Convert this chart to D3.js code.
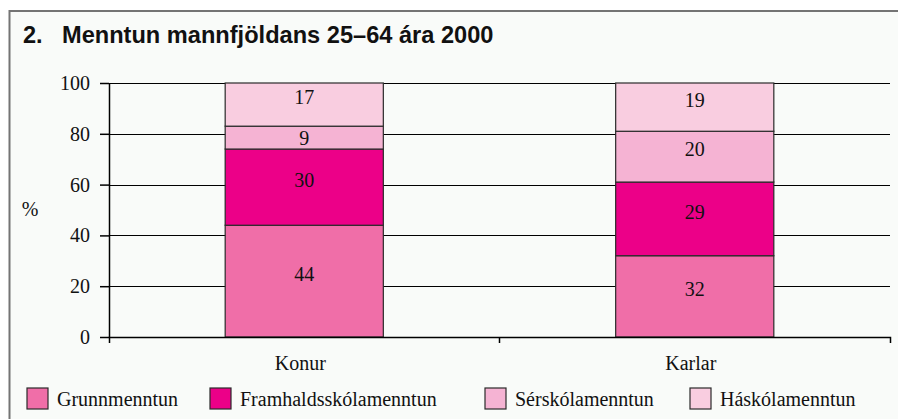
<!DOCTYPE html>
<html>
<head>
<meta charset="utf-8">
<script src="https://cdn.jsdelivr.net/npm/d3@7"></script>
<style>
  body { margin: 0; background: #ffffff; }
  text { font-family: "Liberation Serif", "Times New Roman", serif; fill: #111; }
  .title { font-family: "Liberation Sans", Arial, sans-serif; font-weight: bold; }
</style>
</head>
<body>
<div id="chart"></div>
<script>
// data
var categories = ["Konur", "Karlar"];
var seriesNames = ["Grunnmenntun", "Framhaldsskólamenntun", "Sérskólamenntun", "Háskólamenntun"];
var grunn = [44, 32];
var framhald = [30, 29];
var serskola = [9, 20];
var haskola = [17, 19];
var yTicks = [0, 20, 40, 60, 80, 100];

var colors = ["#f06ea8", "#ec0088", "#f5b3d3", "#f9cde0"];

var width = 898, height = 419;

var svg = d3.select("#chart").append("svg")
    .attr("width", width)
    .attr("height", height);

// frame
svg.append("rect")
    .attr("x", 9).attr("y", 10)
    .attr("width", width - 9).attr("height", height - 10)
    .attr("fill", "#f9fbf9");
svg.append("line")
    .attr("x1", 9).attr("x2", width).attr("y1", 11).attr("y2", 11)
    .attr("stroke", "#747474").attr("stroke-width", 2);
svg.append("line")
    .attr("x1", 9.5).attr("x2", 9.5).attr("y1", 10).attr("y2", height)
    .attr("stroke", "#747474").attr("stroke-width", 2);

// title
var title = svg.append("text").attr("class", "title")
    .attr("x", 23).attr("y", 43)
    .style("font-size", "23.6px");
title.append("tspan").text("2.");
title.append("tspan").attr("x", 62).text("Menntun mannfjöldans 25–64 ára 2000");

// scales
var plotLeft = 109, plotRight = 890, plotTop = 83, plotBottom = 337;

var x = d3.scaleBand()
    .domain(categories)
    .range([plotLeft, plotRight]);

var y = d3.scaleLinear()
    .domain([0, 100])
    .range([plotBottom, plotTop]);

var barFrac = 0.405;
var barW = x.bandwidth() * barFrac;

// gridlines
svg.append("g").selectAll("line")
    .data(yTicks.filter(function(d){ return d > 0; }))
    .enter().append("line")
    .attr("x1", plotLeft).attr("x2", plotRight)
    .attr("y1", function(d){ return Math.round(y(d)) + 0.5; })
    .attr("y2", function(d){ return Math.round(y(d)) + 0.5; })
    .attr("stroke", "#000").attr("stroke-width", 1.2);

// stack
var rows = categories.map(function(c, i){
    return {cat: c, "Grunnmenntun": grunn[i], "Framhaldsskólamenntun": framhald[i],
            "Sérskólamenntun": serskola[i], "Háskólamenntun": haskola[i]};
});
var stacked = d3.stack().keys(seriesNames)(rows);

var groups = svg.append("g").selectAll("g")
    .data(stacked)
    .enter().append("g")
    .attr("fill", function(d, i){ return colors[i]; });

groups.selectAll("rect")
    .data(function(d){ return d; })
    .enter().append("rect")
    .attr("x", function(d){ return x(d.data.cat) + (x.bandwidth() - barW) / 2; })
    .attr("y", function(d){ return y(d[1]); })
    .attr("width", barW)
    .attr("height", function(d){ return y(d[0]) - y(d[1]); })
    .attr("stroke", "#2a2a2a").attr("stroke-width", 1.2);

// value labels
groups.selectAll("text")
    .data(function(d){ return d; })
    .enter().append("text")
    .attr("x", function(d){ return x(d.data.cat) + x.bandwidth() / 2; })
    .attr("y", function(d){
        var mid = (y(d[0]) + y(d[1])) / 2;
        return Math.max(mid - 7, y(d[1]) + 12);
    })
    .attr("dy", "0.34em")
    .attr("text-anchor", "middle")
    .attr("fill", "#111")
    .style("font-size", "20px")
    .text(function(d){ return d[1] - d[0]; });

// y axis
var yAxis = d3.axisLeft(y)
    .tickValues(yTicks)
    .tickSizeInner(9)
    .tickSizeOuter(0)
    .tickPadding(10);

var gy = svg.append("g")
    .attr("transform", "translate(" + plotLeft + ",0)")
    .call(yAxis);
gy.selectAll("text").style("font-size", "20px").attr("fill", "#111")
    .style("font-family", "Liberation Serif, serif");
gy.selectAll("line, path").attr("stroke", "#000").attr("stroke-width", 1.5);

// x axis
var xAxis = d3.axisBottom(x)
    .tickSizeInner(0)
    .tickSizeOuter(6)
    .tickPadding(19);

var gx = svg.append("g")
    .attr("transform", "translate(0," + plotBottom + ")")
    .call(xAxis);
gx.selectAll("text").style("font-size", "20px").attr("fill", "#111")
    .style("font-family", "Liberation Serif, serif")
    .attr("x", -4);
gx.selectAll("path").attr("stroke", "#000").attr("stroke-width", 1.5);

// tick between categories
gx.selectAll(".mid-tick")
    .data(categories.slice(1))
    .enter().append("line")
    .attr("class", "mid-tick")
    .attr("x1", function(d){ return x(d); })
    .attr("x2", function(d){ return x(d); })
    .attr("y1", 0).attr("y2", 6)
    .attr("stroke", "#000").attr("stroke-width", 1.5);

// % label
svg.append("text")
    .attr("x", 30).attr("y", (plotTop + plotBottom) / 2)
    .attr("dy", "0.3em")
    .attr("text-anchor", "middle")
    .style("font-size", "20px")
    .text("%");

// legend
var legendX = [27, 210, 485, 690];
var legend = svg.append("g").selectAll("g")
    .data(seriesNames)
    .enter().append("g")
    .attr("transform", function(d, i){ return "translate(" + legendX[i] + ",388)"; });

legend.append("rect")
    .attr("width", 21).attr("height", 21)
    .attr("fill", function(d, i){ return colors[i]; })
    .attr("stroke", "#2a2a2a").attr("stroke-width", 1.2);

legend.append("text")
    .attr("x", 30).attr("y", 18)
    .style("font-size", "20px")
    .text(function(d){ return d; });
</script>
</body>
</html>
